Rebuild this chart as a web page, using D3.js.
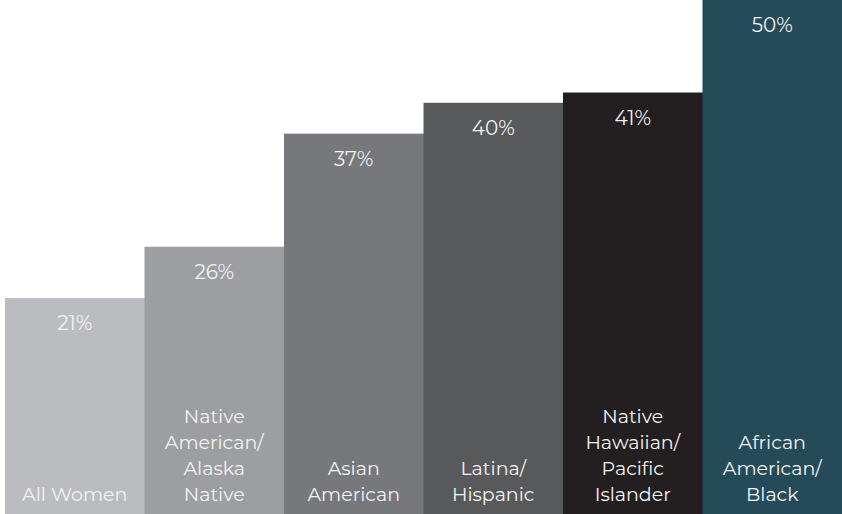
<!DOCTYPE html>
<html><head><meta charset="utf-8">
<script src="https://cdn.jsdelivr.net/npm/d3@7"></script>
<style>html,body{margin:0;padding:0;background:#fff;}svg{display:block;}</style>
</head><body>
<svg id="chart" width="842" height="514"></svg>
<script>
const categories = ["All Women", "Native American/ Alaska Native", "Asian American", "Latina/ Hispanic", "Native Hawaiian/ Pacific Islander", "African American/ Black"];
const categoryLines = [["All Women"], ["Native", "American/", "Alaska", "Native"], ["Asian", "American"], ["Latina/", "Hispanic"], ["Native", "Hawaiian/", "Pacific", "Islander"], ["African", "American/", "Black"]];
const values = [21, 26, 37, 40, 41, 50];
const valueLabels = ["21%", "26%", "37%", "40%", "41%", "50%"];
const colors = ["#bbbcc0", "#9d9ea2", "#77787b", "#58595b", "#231f20", "#254b5a"];

const W = 842, H = 514;
const svg = d3.select("#chart");
const x = d3.scaleBand().domain(categories).range([5, 842]).padding(0);
const y = d3.scaleLinear().domain([0, 50]).range([H, 0]);
const font = "Montserrat, 'Open Sans', sans-serif";

const g = svg.selectAll("g.bar").data(categories).enter().append("g").attr("class", "bar");
g.append("rect")
  .attr("x", d => x(d))
  .attr("width", x.bandwidth() + 0.5)
  .attr("y", (d, i) => y(values[i]))
  .attr("height", (d, i) => H - y(values[i]))
  .attr("fill", (d, i) => colors[i]);

g.append("text")
  .attr("x", d => x(d) + x.bandwidth() / 2)
  .attr("y", (d, i) => y(values[i]) + 32)
  .attr("text-anchor", "middle")
  .attr("fill", "#f2f2f2")
  .style("font-family", font)
  .style("font-size", "20px")
  .style("font-weight", 400)
  .text((d, i) => valueLabels[i]);

const lh = 26;
g.each(function(d, i) {
  const lines = categoryLines[i];
  const t = d3.select(this).append("text")
    .attr("text-anchor", "middle")
    .attr("fill", "#f2f2f2")
    .style("font-family", font)
    .style("font-size", "19px")
    .style("font-weight", 400);
  lines.forEach((ln, k) => {
    t.append("tspan")
      .attr("x", x(d) + x.bandwidth() / 2)
      .attr("y", 501 - (lines.length - 1 - k) * lh)
      .text(ln);
  });
});
</script>
</body></html>
